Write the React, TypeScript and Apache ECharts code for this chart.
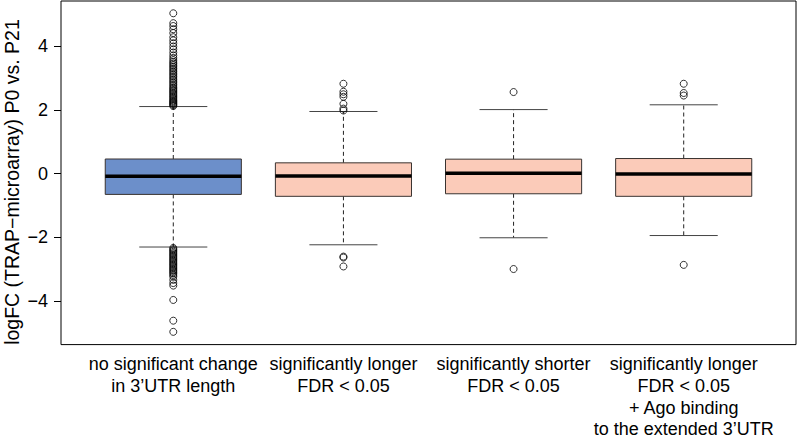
import React, { useEffect, useRef } from "react";
import * as echarts from "echarts";

// ---- data ----
const categories = [
  "no significant change\nin 3’UTR length",
  "significantly longer\nFDR < 0.05",
  "significantly shorter\nFDR < 0.05",
  "significantly longer\nFDR < 0.05\n+ Ago binding\nto the extended 3’UTR",
];
const lowerWhisker = [-2.3, -2.23, -2.01, -1.94];
const q1 = [-0.65, -0.71, -0.63, -0.71];
const median = [-0.08, -0.07, 0.01, -0.01];
const q3 = [0.46, 0.34, 0.455, 0.475];
const upperWhisker = [2.105, 1.95, 2.01, 2.16];

const outliers1 = [
  5.03, 4.72, 4.63, 4.53, 4.41, 4.28, 4.18, 4.09, 3.99, 3.9, 3.8, 3.71, 3.63, 3.56, 3.5, 3.45, 3.4, 3.35,
  3.3, 3.25, 3.2, 3.15, 3.1, 3.05, 3.0, 2.95, 2.9, 2.85, 2.8, 2.75, 2.7, 2.66, 2.62, 2.58, 2.54, 2.5,
  2.46, 2.42, 2.38, 2.34, 2.3, 2.27, 2.24, 2.21, 2.18, 2.15, 2.12,
  -2.33, -2.37, -2.41, -2.45, -2.49, -2.53, -2.57, -2.61, -2.65, -2.69, -2.73, -2.77, -2.81, -2.85,
  -2.89, -2.93, -2.97, -3.01, -3.05, -3.09, -3.13, -3.18, -3.23, -3.33, -3.43, -3.51, -3.96, -4.61, -4.96,
];
const outliers2 = [2.82, 2.57, 2.49, 2.41, 2.19, 2.04, 1.98, -2.6, -2.63, -2.91];
const outliers3 = [2.56, -2.99];
const outliers4 = [2.82, 2.53, 2.45, -2.86];
const outlierGroups = [outliers1, outliers2, outliers3, outliers4];

const yTicks = [-4, -2, 0, 2, 4];
const xTicks = [1, 2, 3, 4];

// ---- styles ----
const boxFills = ["#6c8fca", "#fbcbb9", "#fbcbb9", "#fbcbb9"];
const FONT = "'Liberation Sans', Arial, Helvetica, sans-serif";

export default function App() {
  const ref = useRef<HTMLDivElement>(null);

  useEffect(() => {
    if (!ref.current) return;
    const chart = echarts.init(ref.current, null, { renderer: "svg" });

    const boxData = categories.map((_, i) => [
      i + 1,
      lowerWhisker[i],
      q1[i],
      median[i],
      q3[i],
      upperWhisker[i],
    ]);
    const outlierData: number[][] = [];
    outlierGroups.forEach((g, i) => g.forEach((v) => outlierData.push([i + 1, v])));

    const renderItem = (params: any, api: any) => {
      const x = api.value(0);
      const idx = params.dataIndex;
      const [cx, lwY] = api.coord([x, api.value(1)]);
      const q1Y = api.coord([x, api.value(2)])[1];
      const medY = api.coord([x, api.value(3)])[1];
      const q3Y = api.coord([x, api.value(4)])[1];
      const uwY = api.coord([x, api.value(5)])[1];
      const halfBox = api.size([0.4, 0])[0];
      const halfCap = api.size([0.2, 0])[0];
      return {
        type: "group",
        children: [
          {
            type: "line",
            shape: { x1: cx, y1: q3Y, x2: cx, y2: uwY },
            style: { stroke: "#222", lineWidth: 1, lineDash: [4, 3] },
          },
          {
            type: "line",
            shape: { x1: cx, y1: q1Y, x2: cx, y2: lwY },
            style: { stroke: "#222", lineWidth: 1, lineDash: [4, 3] },
          },
          {
            type: "line",
            shape: { x1: cx - halfCap, y1: uwY, x2: cx + halfCap, y2: uwY },
            style: { stroke: "#444", lineWidth: 1 },
          },
          {
            type: "line",
            shape: { x1: cx - halfCap, y1: lwY, x2: cx + halfCap, y2: lwY },
            style: { stroke: "#444", lineWidth: 1 },
          },
          {
            type: "rect",
            shape: { x: cx - halfBox, y: q3Y, width: 2 * halfBox, height: q1Y - q3Y },
            style: { fill: boxFills[idx], stroke: "#3a3330", lineWidth: 1 },
          },
          {
            type: "line",
            shape: { x1: cx - halfBox, y1: medY, x2: cx + halfBox, y2: medY },
            style: { stroke: "#000", lineWidth: 3.5 },
          },
        ],
      };
    };

    chart.setOption({
      animation: false,
      backgroundColor: "#fff",
      textStyle: { fontFamily: FONT },
      grid: {
        left: 61,
        top: 1,
        width: 735,
        height: 348,
        show: true,
        borderColor: "#000",
        borderWidth: 1,
        backgroundColor: "transparent",
      },
      xAxis: {
        type: "value",
        min: 0.34,
        max: 4.66,
        axisLine: { show: false },
        splitLine: { show: false },
        axisTick: {
          show: true,
          customValues: xTicks,
          length: 7,
          lineStyle: { color: "#000", width: 1 },
        },
        axisLabel: {
          show: true,
          customValues: xTicks,
          formatter: (v: number) => categories[Math.round(v) - 1] ?? "",
          fontSize: 18,
          lineHeight: 21.6,
          color: "#000",
          margin: 9,
          fontFamily: FONT,
          align: "center",
        },
      },
      yAxis: {
        type: "value",
        min: -5.36,
        max: 5.415,
        axisLine: { show: false },
        splitLine: { show: false },
        axisTick: {
          show: true,
          customValues: yTicks,
          length: 7,
          lineStyle: { color: "#000", width: 1 },
        },
        axisLabel: {
          show: true,
          customValues: yTicks,
          formatter: (v: number) => (v < 0 ? "−" + Math.abs(v) : String(v)),
          fontSize: 18,
          color: "#000",
          margin: 13,
          fontFamily: FONT,
        },
      },
      graphic: [
        {
          type: "text",
          x: 11.5,
          y: 182,
          rotation: Math.PI / 2,
          style: {
            text: "logFC (TRAP−microarray) P0 vs. P21",
            fontSize: 19.5,
            fontFamily: FONT,
            fill: "#000",
            textAlign: "center",
            textVerticalAlign: "middle",
          },
        },
      ],
      series: [
        {
          type: "custom",
          renderItem,
          data: boxData,
          encode: { x: 0, y: [1, 2, 3, 4, 5] },
          z: 2,
        },
        {
          type: "scatter",
          data: outlierData,
          symbol: "circle",
          symbolSize: 7,
          itemStyle: { color: "rgba(0,0,0,0)", borderColor: "#000", borderWidth: 1 },
          z: 3,
        },
      ],
    });

    return () => chart.dispose();
  }, []);

  return (
    <div
      ref={ref}
      style={{ position: "absolute", left: 0, top: 0, width: 797, height: 440, background: "#fff" }}
    />
  );
}
